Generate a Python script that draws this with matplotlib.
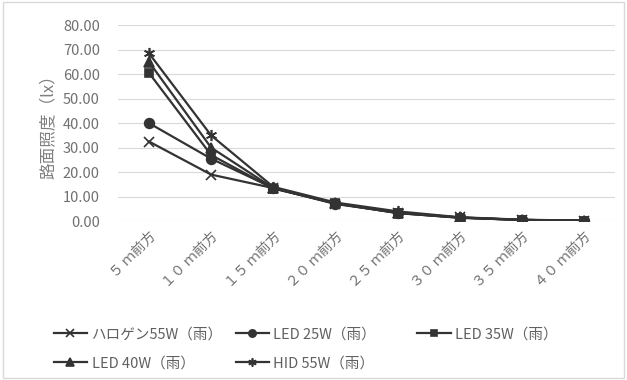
import matplotlib
matplotlib.use("Agg")
import matplotlib.pyplot as plt

plt.rcParams['font.family'] = ['Noto Sans CJK JP', 'DejaVu Sans']

categories = ["５ ｍ前方", "１０ ｍ前方", "１５ ｍ前方", "２０ ｍ前方",
              "２５ ｍ前方", "３０ ｍ前方", "３５ ｍ前方", "４０ ｍ前方"]
halogen = [32.5, 19.0, 13.5, 7.0, 3.5, 1.5, 0.5, 0.2]
led25 = [40.0, 25.5, 13.5, 7.2, 3.3, 1.4, 0.5, 0.2]
led35 = [60.5, 27.0, 13.3, 7.3, 3.3, 1.4, 0.5, 0.2]
led40 = [65.0, 30.0, 13.5, 7.4, 3.4, 1.5, 0.5, 0.2]
hid55 = [68.5, 35.0, 14.0, 7.6, 4.0, 1.6, 0.6, 0.2]

labels = ["ハロゲン55W（雨）", "LED 25W（雨）", "LED 35W（雨）",
          "LED 40W（雨）", "HID 55W（雨）"]
series = [halogen, led25, led35, led40, hid55]
markers = ["x", "o", "s", "^", (6, 2, 0)]
sizes = [7, 7, 6, 7, 8]

fig = plt.figure(figsize=(6.27, 3.8), dpi=100)
ax = fig.add_axes([0.188, 0.418, 0.793, 0.516])

x = list(range(len(categories)))
color = "#333333"
handles = []
for vals, lab, m, s in zip(series, labels, markers, sizes):
    h, = ax.plot(x, vals, color=color, lw=1.6, marker=m, markersize=s,
                 markeredgewidth=1.2, label=lab)
    handles.append(h)

ax.set_xlim(-0.5, 7.5)
ax.set_ylim(0, 80)
ax.set_yticks(range(0, 81, 10))
ax.set_yticklabels([f"{v:.2f}" for v in range(0, 81, 10)], color="#707070", fontsize=10.5)
ax.set_xticks(x)
ax.set_xticklabels(categories, rotation=45, ha="right", rotation_mode="anchor",
                   color="#707070", fontsize=10)
ax.tick_params(axis="x", length=0, pad=6)
ax.tick_params(axis="y", length=0, pad=13)
ax.grid(axis="y", color="#d9d9d9", lw=0.8)
for sp in ax.spines.values():
    sp.set_visible(False)
ax.set_axisbelow(True)
ax.set_ylabel("路面照度（lx）", color="#808080", fontsize=12, labelpad=4)

# equal-width legend columns, filled row by row like the original
columns = [[0, 3], [1, 4], [2]]
col_x = [0.074, 0.364, 0.654]
for idx, cx in zip(columns, col_x):
    fig.legend([handles[i] for i in idx], [labels[i] for i in idx],
               loc="upper left", bbox_to_anchor=(cx, 0.158), frameon=False,
               fontsize=10.5, handlelength=2.3, handletextpad=0.3, borderpad=0,
               labelspacing=1.05, labelcolor="#606060", markerscale=0.75)

fig.patches.append(plt.Rectangle((0.005, 0.005), 0.99, 0.99, transform=fig.transFigure,
                                 fill=False, edgecolor="#d9d9d9", lw=1))

fig.savefig("out.png", dpi=100)
